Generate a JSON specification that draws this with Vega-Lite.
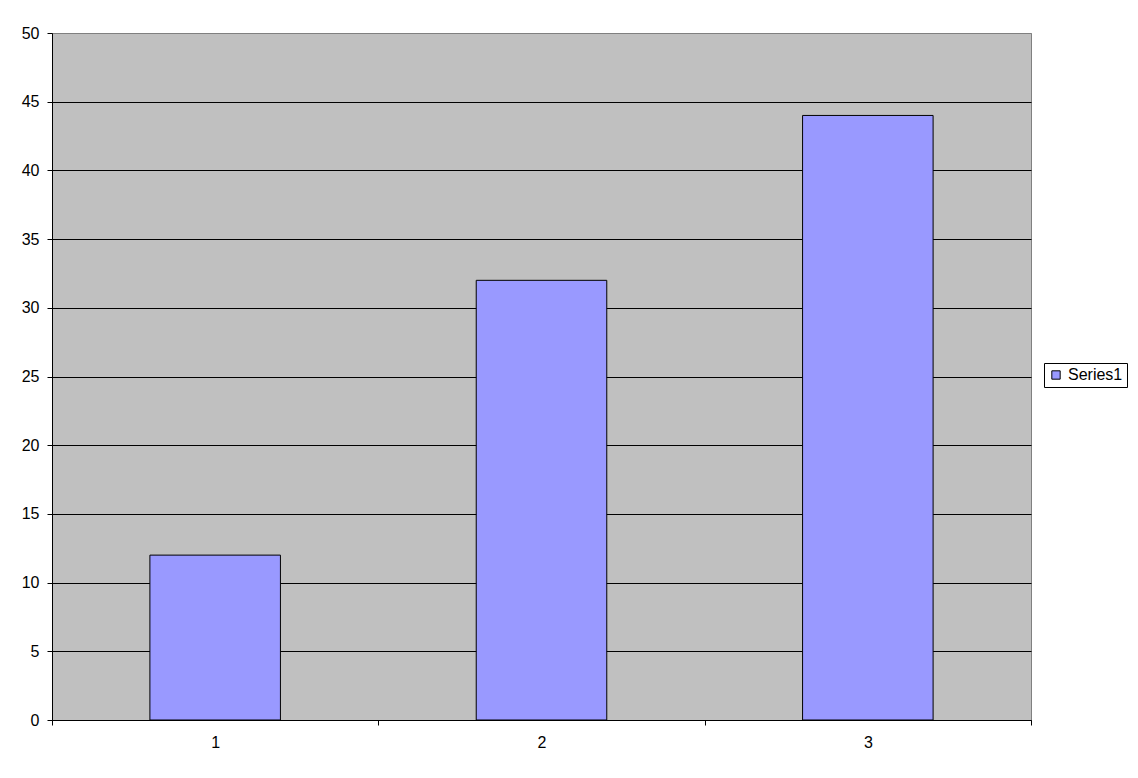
{
  "$schema": "https://vega.github.io/schema/vega-lite/v6.json",
  "width": 979,
  "height": 687,
  "autosize": "none",
  "padding": {"left": 52, "top": 33, "right": 107, "bottom": 58},
  "background": "white",
  "data": {
    "values": [
      {"category": "1", "value": 12, "series": "Series1"},
      {"category": "2", "value": 32, "series": "Series1"},
      {"category": "3", "value": 44, "series": "Series1"}
    ]
  },
  "mark": {"type": "bar", "width": {"band": 0.4}, "stroke": "black", "strokeWidth": 1},
  "encoding": {
    "x": {
      "field": "category",
      "type": "ordinal",
      "scale": {"paddingInner": 0, "paddingOuter": 0},
      "axis": {
        "title": null,
        "labelAngle": 0,
        "tickBand": "extent",
        "domainColor": "black",
        "tickColor": "black",
        "tickSize": 5,
        "labelPadding": 9,
        "labelFont": "Liberation Sans",
        "labelFontSize": 16,
        "labelColor": "black"
      }
    },
    "y": {
      "field": "value",
      "type": "quantitative",
      "scale": {"domain": [0, 50], "nice": false},
      "axis": {
        "title": null,
        "values": [0, 5, 10, 15, 20, 25, 30, 35, 40, 45, 50],
        "grid": true,
        "gridColor": {"condition": {"test": "datum.value === 50", "value": "#808080"}, "value": "black"},
        "gridOpacity": 1,
        "domainColor": "black",
        "tickColor": "black",
        "tickSize": 5,
        "labelPadding": 8,
        "labelFont": "Liberation Sans",
        "labelFontSize": 16,
        "labelColor": "black"
      }
    },
    "color": {
      "field": "series",
      "type": "nominal",
      "scale": {"range": ["#9999FF"]},
      "legend": {
        "title": null,
        "orient": "none",
        "legendX": 992,
        "legendY": 330,
        "strokeColor": "black",
        "padding": 4,
        "symbolType": "square",
        "symbolSize": 70,
        "symbolStrokeColor": "black",
        "symbolStrokeWidth": 1,
        "labelFont": "Liberation Sans",
        "labelFontSize": 16,
        "labelColor": "black",
        "labelOffset": 4
      }
    }
  },
  "config": {
    "view": {"stroke": "#808080", "fill": "#C0C0C0"}
  }
}
